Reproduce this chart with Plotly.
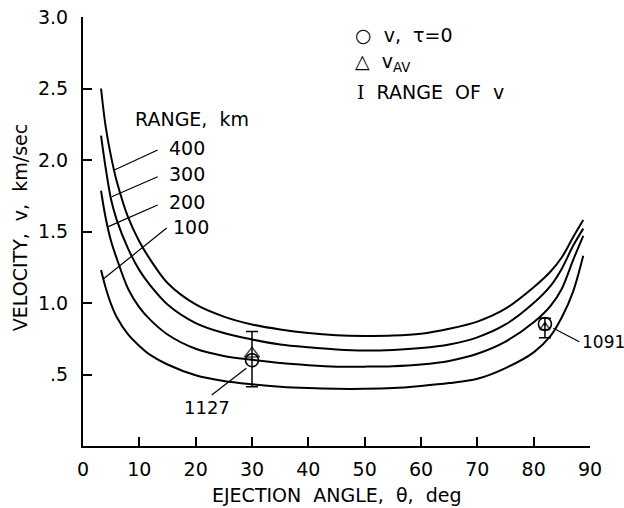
import plotly.graph_objects as go

# ---- data ----
angle = [3.2, 4, 5, 6, 8, 10, 12, 15, 20, 25, 30, 35, 40, 45, 50, 55, 60, 65, 70, 75, 80, 83, 85, 87, 88.8]
v100 = [1.23, 1.11, 0.99, 0.90, 0.78, 0.70, 0.635, 0.57, 0.495, 0.455, 0.432, 0.415, 0.405, 0.40, 0.40, 0.405, 0.42, 0.44, 0.47, 0.545, 0.655, 0.77, 0.90, 1.08, 1.33]
v200 = [1.785, 1.60, 1.43, 1.31, 1.10, 0.97, 0.88, 0.78, 0.68, 0.63, 0.603, 0.58, 0.565, 0.555, 0.555, 0.558, 0.57, 0.595, 0.645, 0.73, 0.865, 0.98, 1.10, 1.30, 1.47]
v300 = [2.17, 1.95, 1.72, 1.58, 1.38, 1.23, 1.12, 0.99, 0.86, 0.79, 0.745, 0.71, 0.69, 0.675, 0.668, 0.672, 0.685, 0.71, 0.76, 0.85, 1.00, 1.12, 1.24, 1.40, 1.52]
v400 = [2.50, 2.24, 2.02, 1.85, 1.60, 1.43, 1.30, 1.14, 0.99, 0.905, 0.85, 0.815, 0.79, 0.775, 0.77, 0.772, 0.785, 0.82, 0.87, 0.96, 1.11, 1.22, 1.32, 1.46, 1.58]
curve_ranges = ["100", "200", "300", "400"]

# observed samples
sample_ids = ["1127", "1091"]
sample_angle = [30, 82]
v_tau0 = [0.60, 0.853]
v_av = [0.645, 0.83]
v_min = [0.415, 0.757]
v_max = [0.80, 0.893]

x_ticks = [0, 10, 20, 30, 40, 50, 60, 70, 80, 90]
x_ticktext = ["0", "10", "20", "30", "40", "50", "60", "70", "80", "90"]
y_ticks = [0.5, 1.0, 1.5, 2.0, 2.5, 3.0]
y_ticktext = [".5", "1.0", "1.5", "2.0", "2.5", "3.0"]

FONT = "DejaVu Sans"
FS = 19

fig = go.Figure()
for vals in [v100, v200, v300, v400]:
    fig.add_trace(go.Scatter(x=angle, y=vals, mode="lines",
                             line=dict(color="black", width=2, shape="spline", smoothing=0.9),
                             showlegend=False, hoverinfo="skip"))

# range of v error bars
fig.add_trace(go.Scatter(
    x=sample_angle, y=v_tau0, mode="markers",
    marker=dict(size=2, color="rgba(0,0,0,0)"),
    error_y=dict(type="data", symmetric=False,
                 array=[mx - v for mx, v in zip(v_max, v_tau0)],
                 arrayminus=[v - mn for mn, v in zip(v_min, v_tau0)],
                 color="black", thickness=1.5, width=6),
    showlegend=False, hoverinfo="skip"))
# v_AV triangles
fig.add_trace(go.Scatter(x=sample_angle, y=v_av, mode="markers",
                         marker=dict(symbol="triangle-up-open", size=[13, 9], color="black",
                                     line=dict(width=1.6, color="black")),
                         showlegend=False, hoverinfo="skip"))
# v, tau=0 circles
fig.add_trace(go.Scatter(x=sample_angle, y=v_tau0, mode="markers",
                         marker=dict(symbol="circle-open", size=13, color="black",
                                     line=dict(width=1.6, color="black")),
                         showlegend=False, hoverinfo="skip"))
# center dot at 1091
fig.add_trace(go.Scatter(x=sample_angle[1:], y=v_tau0[1:], mode="markers",
                         marker=dict(symbol="circle", size=3, color="black"),
                         showlegend=False, hoverinfo="skip"))

ann = []
def txt(x, y, t, xanchor="center", size=FS, xref="x", yref="y"):
    ann.append(dict(x=x, y=y, xref=xref, yref=yref, text=t, showarrow=False,
                    xanchor=xanchor, yanchor="middle",
                    font=dict(family=FONT, size=size, color="black")))

# range labels
txt(19.35, 2.287, "RANGE,  km")
label_pos = {"400": (18.4, 2.086), "300": (18.4, 1.90), "200": (18.4, 1.708), "100": (19.2, 1.534)}
for r in curve_ranges:
    txt(label_pos[r][0], label_pos[r][1], r)

# leader lines for labels
leaders = [
    (5.56, 1.930, 13.26, 2.070),
    (5.09, 1.743, 13.26, 1.883),
    (4.49, 1.534, 13.26, 1.685),
    (3.60, 1.168, 14.86, 1.524),
    (28.99, 0.543, 22.85, 0.357),
    (83.5, 0.823, 88.1, 0.729),
]
shapes = []
for x0, y0, x1, y1 in leaders:
    shapes.append(dict(type="line", xref="x", yref="y", x0=x0, y0=y0, x1=x1, y1=y1,
                       line=dict(color="black", width=1.2)))

# sample labels
txt(22.0, 0.27, sample_ids[0], size=18)
txt(88.2, 0.727, sample_ids[1], xanchor="left", size=17)

# legend
txt(0.532, 0.958, "○  v,  τ=0", xanchor="left", xref="paper", yref="paper")
txt(0.532, 0.895, "△  v<sub>AV</sub>", xanchor="left", xref="paper", yref="paper")
txt(0.536, 0.825, "<span style='font-family:DejaVu Serif'>I</span>  RANGE  OF  v", xanchor="left", xref="paper", yref="paper")

# axis titles
txt(0.5, -0.114, "EJECTION  ANGLE,  θ,  deg", xref="paper", yref="paper")
ann.append(dict(x=-0.124, y=0.508, xref="paper", yref="paper", text="VELOCITY,  v,  km/sec",
                showarrow=False, textangle=-90, xanchor="center", yanchor="middle",
                font=dict(family=FONT, size=FS, color="black")))

fig.update_layout(
    width=624, height=508,
    margin=dict(l=83, r=34, t=17, b=62, autoexpand=False),
    paper_bgcolor="white", plot_bgcolor="white",
    annotations=ann, shapes=shapes,
    xaxis=dict(range=[0, 90], tickvals=x_ticks, ticktext=x_ticktext,
               ticks="inside", ticklen=9, tickwidth=1.5, tickcolor="black",
               showline=True, linewidth=2, linecolor="black", automargin=False,
               showgrid=False, zeroline=False, ticklabelstandoff=5,
               tickfont=dict(family=FONT, size=FS, color="black")),
    yaxis=dict(range=[0, 3.0], tickvals=y_ticks, ticktext=y_ticktext,
               ticks="inside", ticklen=9, tickwidth=1.5, tickcolor="black",
               showline=True, linewidth=2, linecolor="black", automargin=False,
               showgrid=False, zeroline=False, ticklabelstandoff=9,
               tickfont=dict(family=FONT, size=FS, color="black")),
)

fig.write_html("out.html", config={"displayModeBar": False},
               post_script="document.body.style.margin='0';")
